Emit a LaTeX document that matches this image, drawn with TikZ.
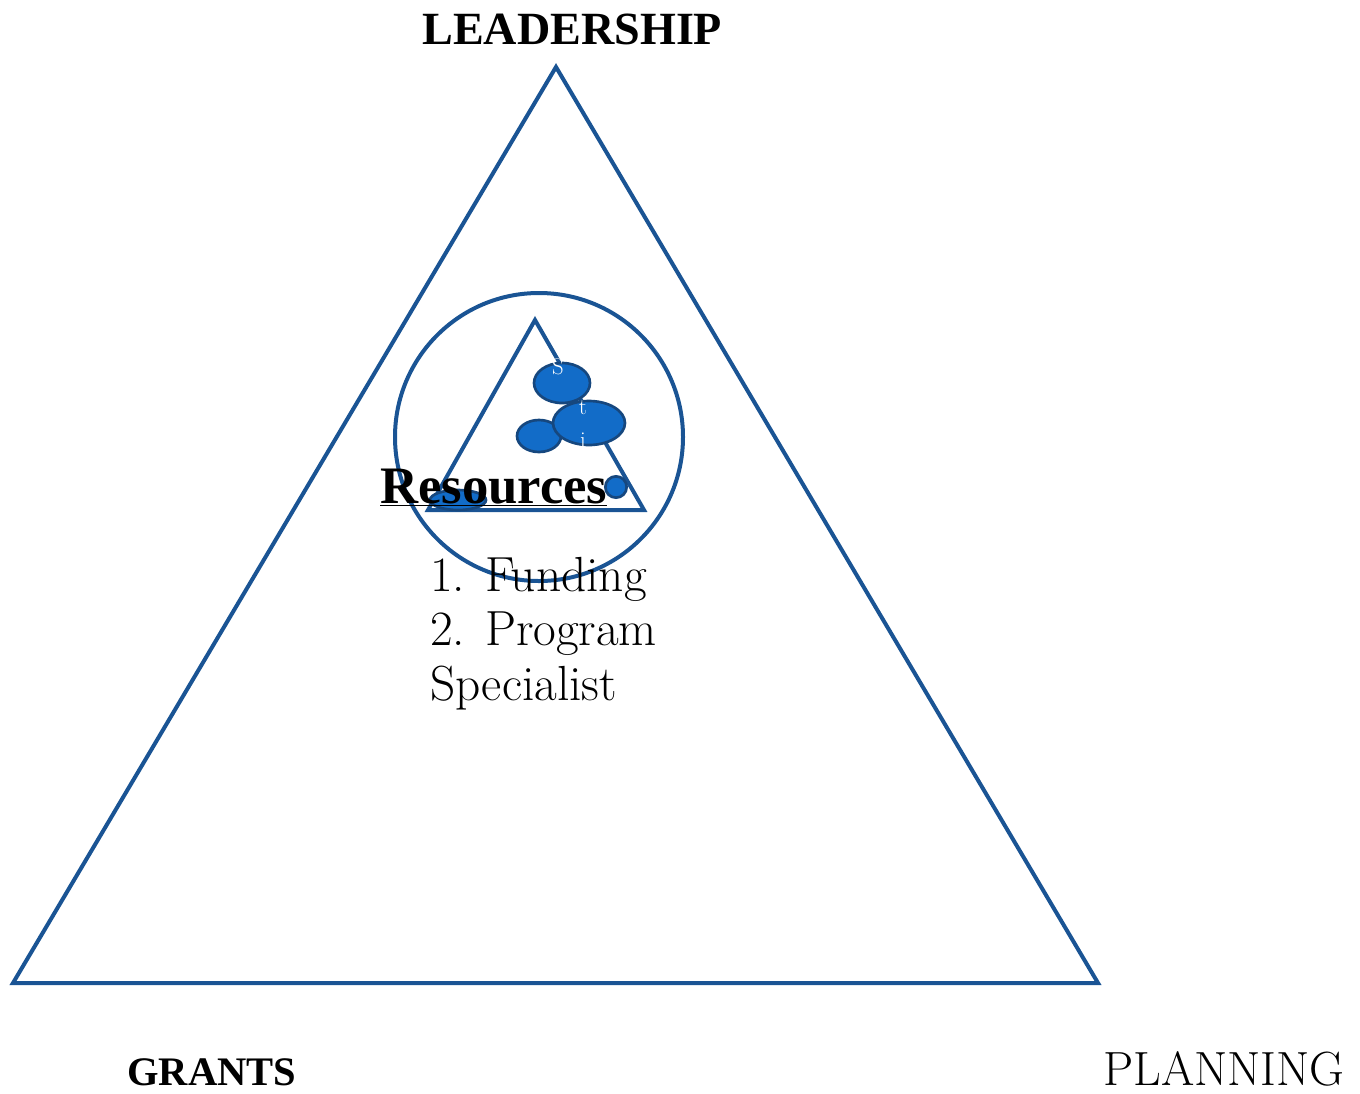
\documentclass[tikz,border=0pt]{standalone}
\usepackage{fontspec}
\newfontfamily\headfont{Liberation Serif}
\usetikzlibrary{shapes.geometric}
\definecolor{lineblue}{RGB}{26,84,148}
\definecolor{blobblue}{RGB}{18,108,200}
\begin{document}
\begin{tikzpicture}[x=0.75pt,y=-0.75pt,
  outline/.style={draw=lineblue,line width=3pt,line join=miter},
  blob/.style={draw=lineblue!85!black,fill=blobblue,line width=2pt,ellipse,inner sep=0pt},
  lbl/.style={anchor=base west,inner sep=0pt,text=black},
  listtxt/.style={lbl,font=\fontsize{37}{44}\selectfont},
  ghost/.style={anchor=base,inner sep=0pt,text=white,font=\fontsize{17}{20}\selectfont}]
\useasboundingbox (0,0) rectangle (1360,1093);
% big triangle
\coordinate (apex) at (556,67);
\coordinate (bl) at (13,983);
\coordinate (br) at (1098,983);
\draw[outline] (apex) -- (br) -- (bl) -- cycle;
% circle
\node[outline,circle,minimum size=216pt,inner sep=0pt] (ring) at (539,437) {};
% small triangle
\coordinate (sa) at (535,320);
\coordinate (sl) at (428,510);
\coordinate (sr) at (644,510);
\draw[outline] (sa) -- (sr) -- (sl) -- cycle;
% blobs
\node[blob,minimum width=42pt,minimum height=30pt] (b1) at (562,383) {};
\node[blob,minimum width=33pt,minimum height=24pt] (b3) at (539,436) {};
\node[blob,minimum width=54pt,minimum height=33pt] (b2) at (589,423) {};
\node[blob,minimum width=16pt,minimum height=16pt] (b4) at (616,487) {};
\node[blob,minimum width=42pt,minimum height=15pt] (b5) at (458,500) {};
\node[ghost] (g1) at (558,374) {S};
\node[ghost] (g2) at (583,414) {t};
\node[ghost] (g3) at (583,447) {i};
% texts
\node[lbl,font=\headfont\fontsize{39.5}{46}\selectfont\bfseries] (res) at (380,503) {\underline{Resources}};
\node[listtxt] (l1) at (430,591) {1. Funding};
\node[listtxt] (l2) at (430,645) {2. Program};
\node[listtxt] (l3) at (430,700) {Specialist};
\node[lbl,font=\headfont\fontsize{34.6}{40}\selectfont\bfseries] (lead) at (422,44) {LEADERSHIP};
\node[lbl,font=\headfont\fontsize{30.4}{36}\selectfont\bfseries] (grants) at (127,1085) {GRANTS};
\node[lbl,font=\fontsize{36}{42}\selectfont] (plan) at (1103,1085) {PLANNING};
\end{tikzpicture}
\end{document}
